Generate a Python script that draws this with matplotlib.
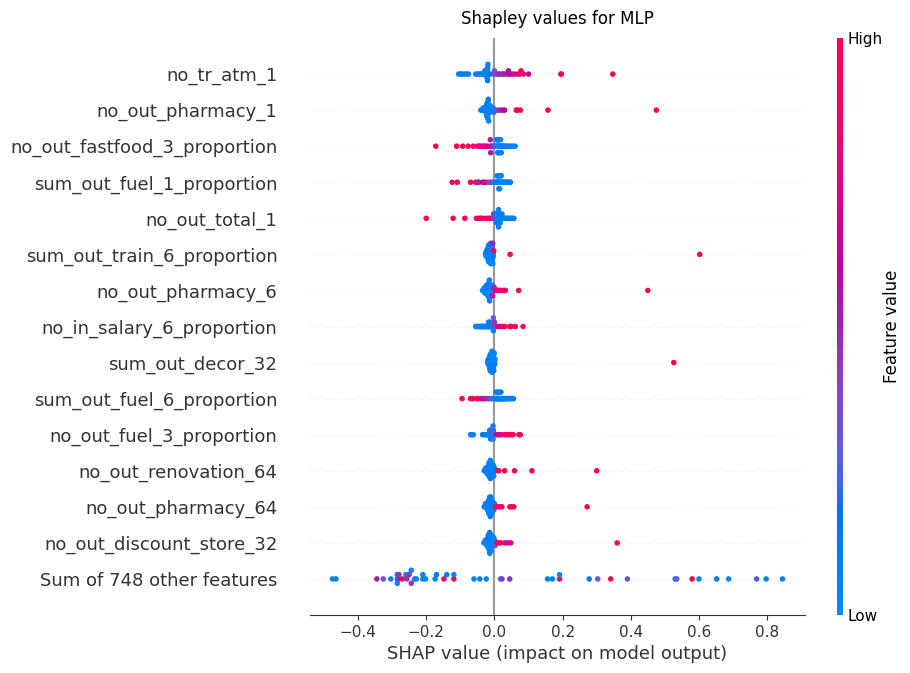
import matplotlib

matplotlib.use("Agg")

import numpy as np
import matplotlib.pyplot as plt
from matplotlib.colors import LinearSegmentedColormap, Normalize
from matplotlib.cm import ScalarMappable

# %%
# shap values (x) and normalised feature values (colour) per feature row, top to bottom

atm1_shap = [
    -0.105, -0.099, -0.094, -0.088, -0.082, -0.076,
    -0.055, -0.050, -0.045, -0.040, -0.036, -0.032, -0.030, -0.028,
    -0.025, -0.023, -0.022, -0.021, -0.021, -0.021, -0.020, -0.020,
    -0.019, -0.012, -0.003, 0.000, 0.005, 0.010, 0.015, 0.020,
    0.025, 0.030, 0.040, 0.041, 0.045, 0.052, 0.060, 0.070,
    0.074, 0.078, 0.085, 0.100, 0.195, 0.196, 0.347,
]
atm1_feat = [
    0.05, 0.08, 0.05, 0.10, 0.05, 0.08,
    0.05, 0.08, 0.05, 0.10, 0.05, 0.08, 0.05, 0.12,
    0.05, 0.08, 0.05, 0.10, 0.05, 0.08, 0.05, 0.12,
    0.05, 0.15, 0.30, 0.35, 0.40, 0.45, 0.45, 0.50,
    0.45, 0.50, 0.60, 0.55, 0.55, 0.70, 0.75, 0.60,
    0.95, 0.90, 0.85, 0.65, 1.00, 1.00, 1.00,
]

pharm1_shap = [
    -0.040, -0.036, -0.033, -0.031, -0.029, -0.027, -0.026, -0.025,
    -0.024, -0.023, -0.022, -0.022, -0.021, -0.021, -0.021, -0.021,
    -0.020, -0.020, -0.020, -0.019, -0.019, -0.018, -0.017, -0.016,
    -0.015, -0.014, -0.012, -0.010, -0.008, -0.006, -0.004, -0.002,
    0.005, 0.012, 0.018, 0.025, 0.030, 0.064, 0.068, 0.076,
    0.157, 0.475,
]
pharm1_feat = [
    0.05, 0.08, 0.05, 0.10, 0.05, 0.08, 0.05, 0.12,
    0.05, 0.08, 0.05, 0.10, 0.05, 0.08, 0.05, 0.12,
    0.05, 0.08, 0.05, 0.10, 0.05, 0.08, 0.05, 0.12,
    0.05, 0.08, 0.05, 0.10, 0.05, 0.08, 0.05, 0.12,
    0.35, 0.45, 0.50, 0.55, 0.60, 0.90, 1.00, 0.95,
    1.00, 1.00,
]

fastfood3_shap = [
    -0.172, -0.111, -0.093, -0.077, -0.062, -0.050, -0.045, -0.040,
    -0.035, -0.030, -0.025, -0.020, -0.012, -0.012, -0.011, -0.008,
    -0.005, 0.000, 0.003, 0.004, 0.006, 0.008, 0.008, 0.010,
    0.010, 0.010, 0.012, 0.012, 0.012, 0.014, 0.015, 0.015,
    0.016, 0.018, 0.018, 0.020, 0.022, 0.024, 0.026, 0.028,
    0.031, 0.035, 0.039, 0.043, 0.048, 0.055, 0.061,
]
fastfood3_feat = [
    1.00, 1.00, 1.00, 1.00, 0.95, 0.85, 0.80, 0.85,
    0.75, 0.80, 0.70, 0.75, 0.55, 0.50, 0.55, 0.45,
    0.50, 0.35, 0.30, 0.05, 0.08, 0.05, 0.10, 0.05,
    0.05, 0.08, 0.05, 0.10, 0.05, 0.08, 0.05, 0.12,
    0.05, 0.08, 0.05, 0.10, 0.05, 0.08, 0.05, 0.12,
    0.05, 0.08, 0.05, 0.10, 0.05, 0.08, 0.05,
]

fuel1_shap = [
    -0.124, -0.109, -0.070, -0.055, -0.048, -0.046, -0.035, -0.030,
    -0.023, -0.015, -0.010, -0.005, 0.003, 0.005, 0.006, 0.008,
    0.008, 0.010, 0.010, 0.011, 0.012, 0.012, 0.013, 0.014,
    0.014, 0.015, 0.016, 0.017, 0.018, 0.019, 0.020, 0.022,
    0.024, 0.026, 0.028, 0.030, 0.033, 0.036, 0.039, 0.042,
    0.045, 0.047,
]
fuel1_feat = [
    1.00, 1.00, 1.00, 0.75, 1.00, 0.50, 0.55, 0.75,
    1.00, 0.35, 0.30, 0.25, 0.05, 0.08, 0.05, 0.10,
    0.05, 0.08, 0.05, 0.10, 0.05, 0.08, 0.05, 0.12,
    0.05, 0.08, 0.05, 0.10, 0.05, 0.08, 0.05, 0.12,
    0.05, 0.08, 0.05, 0.10, 0.05, 0.08, 0.05, 0.12,
    0.05, 0.08,
]

total1_shap = [
    -0.200, -0.121, -0.087, -0.053, -0.045, -0.040, -0.035, -0.025,
    -0.018, -0.012, -0.005, -0.003, -0.002, 0.000, 0.002, 0.005,
    0.003, 0.005, 0.006, 0.008, 0.008, 0.010, 0.010, 0.011,
    0.012, 0.012, 0.013, 0.014, 0.015, 0.016, 0.017, 0.018,
    0.020, 0.022, 0.024, 0.026, 0.029, 0.032, 0.035, 0.039,
    0.043, 0.048, 0.052, 0.057,
]
total1_feat = [
    1.00, 1.00, 1.00, 1.00, 0.75, 0.55, 1.00, 0.95,
    1.00, 0.95, 0.50, 0.45, 0.50, 0.45, 0.30, 0.25,
    0.05, 0.08, 0.05, 0.10, 0.05, 0.08, 0.05, 0.12,
    0.05, 0.08, 0.05, 0.10, 0.05, 0.08, 0.05, 0.12,
    0.05, 0.08, 0.05, 0.10, 0.05, 0.08, 0.05, 0.12,
    0.05, 0.08, 0.05, 0.10,
]

train6_shap = [
    -0.026, -0.025, -0.024, -0.023, -0.022, -0.021, -0.020, -0.020,
    -0.019, -0.019, -0.018, -0.018, -0.017, -0.017, -0.016, -0.016,
    -0.015, -0.015, -0.014, -0.014, -0.013, -0.013, -0.012, -0.012,
    -0.011, -0.011, -0.010, -0.010, -0.009, -0.009, -0.008, -0.008,
    -0.007, -0.007, -0.006, -0.006, -0.005, -0.004, -0.004, -0.003,
    -0.005, -0.002, 0.046, 0.602,
]
train6_feat = [
    0.05, 0.08, 0.05, 0.10, 0.05, 0.08, 0.05, 0.12,
    0.05, 0.08, 0.05, 0.10, 0.05, 0.08, 0.05, 0.12,
    0.05, 0.08, 0.05, 0.10, 0.05, 0.08, 0.05, 0.12,
    0.05, 0.08, 0.05, 0.10, 0.05, 0.08, 0.05, 0.12,
    0.05, 0.08, 0.05, 0.10, 0.05, 0.08, 0.05, 0.12,
    0.50, 1.00, 1.00, 1.00,
]

pharm6_shap = [
    -0.035, -0.032, -0.030, -0.028, -0.026, -0.025, -0.024, -0.023,
    -0.022, -0.021, -0.020, -0.019, -0.019, -0.018, -0.018, -0.017,
    -0.017, -0.016, -0.016, -0.015, -0.015, -0.014, -0.013, -0.012,
    -0.011, -0.010, -0.009, -0.008, -0.007, -0.006, -0.005, -0.003,
    -0.005, 0.000, 0.005, 0.010, 0.015, 0.020, 0.028, 0.032,
    0.071, 0.450,
]
pharm6_feat = [
    0.05, 0.08, 0.05, 0.10, 0.05, 0.08, 0.05, 0.12,
    0.05, 0.08, 0.05, 0.10, 0.05, 0.08, 0.05, 0.12,
    0.05, 0.08, 0.05, 0.10, 0.05, 0.08, 0.05, 0.12,
    0.05, 0.08, 0.05, 0.10, 0.05, 0.08, 0.05, 0.12,
    0.75, 0.80, 0.70, 0.85, 0.80, 0.95, 0.90, 1.00,
    1.00, 1.00,
]

salary6_shap = [
    -0.055, -0.052, -0.049, -0.046, -0.043, -0.040, -0.038, -0.036,
    -0.034, -0.032, -0.030, -0.028, -0.026, -0.024, -0.022, -0.020,
    -0.019, -0.018, -0.017, -0.016, -0.015, -0.014, -0.013, -0.012,
    -0.004, -0.003, -0.003, -0.002, -0.003, 0.000, 0.000, 0.003,
    0.010, 0.015, 0.020, 0.030, 0.025, 0.045, 0.049, 0.061,
    0.084,
]
salary6_feat = [
    0.05, 0.08, 0.05, 0.10, 0.05, 0.08, 0.05, 0.12,
    0.05, 0.08, 0.05, 0.10, 0.05, 0.08, 0.05, 0.12,
    0.05, 0.08, 0.05, 0.10, 0.05, 0.08, 0.05, 0.12,
    0.05, 0.08, 0.05, 0.10, 0.30, 0.40, 0.45, 0.35,
    0.70, 0.75, 0.70, 0.75, 1.00, 1.00, 1.00, 1.00,
    1.00,
]

decor32_shap = [
    -0.020, -0.019, -0.018, -0.018, -0.017, -0.016, -0.016, -0.015,
    -0.015, -0.014, -0.014, -0.013, -0.013, -0.012, -0.012, -0.011,
    -0.011, -0.010, -0.010, -0.010, -0.009, -0.009, -0.009, -0.008,
    -0.008, -0.008, -0.007, -0.007, -0.007, -0.006, -0.006, -0.006,
    -0.005, -0.005, -0.004, -0.004, -0.003, -0.003, -0.002, -0.002,
    -0.001, 0.000, 0.000, 0.001, 0.002, 0.526,
]
decor32_feat = [
    0.05, 0.08, 0.05, 0.10, 0.05, 0.08, 0.05, 0.12,
    0.05, 0.08, 0.05, 0.10, 0.05, 0.08, 0.05, 0.12,
    0.05, 0.08, 0.05, 0.10, 0.05, 0.08, 0.05, 0.12,
    0.05, 0.08, 0.05, 0.10, 0.05, 0.08, 0.05, 0.12,
    0.05, 0.08, 0.05, 0.10, 0.05, 0.08, 0.05, 0.12,
    0.05, 0.08, 0.05, 0.10, 0.05, 1.00,
]

fuel6_shap = [
    -0.095, -0.070, -0.062, -0.050, -0.042, -0.035, -0.033, -0.028,
    -0.020, -0.015, -0.010, -0.005, 0.000, 0.002, 0.004, 0.005,
    0.006, 0.008, 0.009, 0.010, 0.011, 0.012, 0.013, 0.014,
    0.015, 0.016, 0.018, 0.019, 0.020, 0.022, 0.024, 0.026,
    0.028, 0.030, 0.032, 0.034, 0.037, 0.040, 0.044, 0.048,
    0.052, 0.056,
]
fuel6_feat = [
    1.00, 1.00, 1.00, 1.00, 0.80, 0.55, 0.70, 0.50,
    0.50, 0.45, 0.30, 0.25, 0.05, 0.08, 0.05, 0.10,
    0.05, 0.08, 0.05, 0.10, 0.05, 0.08, 0.05, 0.12,
    0.05, 0.08, 0.05, 0.10, 0.05, 0.08, 0.05, 0.12,
    0.05, 0.08, 0.05, 0.10, 0.05, 0.08, 0.05, 0.12,
    0.05, 0.08,
]

fuel3_shap = [
    -0.070, -0.066, -0.062, -0.035, -0.030, -0.026, -0.023, -0.020,
    -0.018, -0.016, -0.015, -0.014, -0.013, -0.012, -0.012, -0.011,
    -0.010, -0.010, -0.009, -0.008, -0.007, -0.006, -0.005, -0.004,
    -0.004, -0.004, -0.003, -0.003, 0.005, 0.010, 0.015, 0.020,
    0.030, 0.035, 0.042, 0.050, 0.055, 0.072, 0.076,
]
fuel3_feat = [
    0.05, 0.08, 0.05, 0.10, 0.05, 0.08, 0.05, 0.12,
    0.05, 0.08, 0.05, 0.10, 0.05, 0.08, 0.05, 0.12,
    0.05, 0.08, 0.05, 0.10, 0.05, 0.08, 0.05, 0.12,
    0.05, 0.08, 0.25, 0.30, 0.50, 0.55, 0.70, 0.75,
    0.95, 0.90, 1.00, 0.95, 1.00, 1.00, 1.00,
]

renov64_shap = [
    -0.030, -0.028, -0.026, -0.024, -0.023, -0.022, -0.021, -0.020,
    -0.019, -0.018, -0.018, -0.017, -0.017, -0.016, -0.016, -0.015,
    -0.015, -0.014, -0.014, -0.013, -0.013, -0.012, -0.012, -0.011,
    -0.011, -0.010, -0.010, -0.009, -0.009, -0.008, -0.008, -0.007,
    -0.006, -0.005, -0.005, -0.004, -0.003, -0.002, -0.001, 0.000,
    0.010, 0.013, 0.030, 0.059, 0.110, 0.300,
]
renov64_feat = [
    0.05, 0.08, 0.05, 0.10, 0.05, 0.08, 0.05, 0.12,
    0.05, 0.08, 0.05, 0.10, 0.05, 0.08, 0.05, 0.12,
    0.05, 0.08, 0.05, 0.10, 0.05, 0.08, 0.05, 0.12,
    0.05, 0.08, 0.05, 0.10, 0.05, 0.08, 0.05, 0.12,
    0.05, 0.08, 0.05, 0.10, 0.05, 0.08, 0.05, 0.12,
    0.95, 1.00, 1.00, 1.00, 1.00, 1.00,
]

pharm64_shap = [
    -0.030, -0.028, -0.026, -0.024, -0.022, -0.021, -0.020, -0.019,
    -0.018, -0.018, -0.017, -0.017, -0.016, -0.016, -0.015, -0.015,
    -0.014, -0.014, -0.013, -0.013, -0.012, -0.012, -0.011, -0.011,
    -0.010, -0.010, -0.009, -0.008, -0.007, -0.006, -0.005, -0.004,
    -0.003, -0.002, -0.001, 0.000, -0.008, -0.012,
    0.003, 0.008, 0.015, 0.022, 0.045, 0.050, 0.057, 0.272,
]
pharm64_feat = [
    0.05, 0.08, 0.05, 0.10, 0.05, 0.08, 0.05, 0.12,
    0.05, 0.08, 0.05, 0.10, 0.05, 0.08, 0.05, 0.12,
    0.05, 0.08, 0.05, 0.10, 0.05, 0.08, 0.05, 0.12,
    0.05, 0.08, 0.05, 0.10, 0.05, 0.08, 0.05, 0.12,
    0.05, 0.08, 0.05, 0.10, 0.05, 0.08,
    1.00, 0.75, 1.00, 0.95, 1.00, 1.00, 1.00, 1.00,
]

discount32_shap = [
    -0.031, -0.029, -0.027, -0.025, -0.023, -0.022, -0.021, -0.020,
    -0.019, -0.019, -0.018, -0.018, -0.017, -0.017, -0.016, -0.016,
    -0.015, -0.015, -0.014, -0.014, -0.013, -0.013, -0.012, -0.012,
    -0.011, -0.010, -0.009, -0.008, -0.007, -0.006, -0.005, -0.004,
    -0.003, -0.002, -0.001, 0.000, -0.010, -0.014,
    0.002, 0.008, 0.012, 0.018, 0.030, 0.038, 0.048, 0.360,
]
discount32_feat = [
    0.05, 0.08, 0.05, 0.10, 0.05, 0.08, 0.05, 0.12,
    0.05, 0.08, 0.05, 0.10, 0.05, 0.08, 0.05, 0.12,
    0.05, 0.08, 0.05, 0.10, 0.05, 0.08, 0.05, 0.12,
    0.05, 0.08, 0.05, 0.10, 0.05, 0.08, 0.05, 0.12,
    0.05, 0.08, 0.05, 0.10, 0.05, 0.08,
    0.30, 1.00, 0.95, 1.00, 0.50, 0.55, 0.75, 1.00,
]

others_shap = [
    -0.475, -0.465, -0.345, -0.326, -0.304, -0.285, -0.285, -0.285, -0.280, -0.280,
    -0.270, -0.260, -0.257, -0.250, -0.244, -0.244, -0.234, -0.229, -0.210, -0.210,
    -0.202, -0.174, -0.170, -0.148, -0.140, -0.119, -0.119, -0.060, -0.043, -0.024,
    0.018, 0.022, 0.045, 0.156, 0.170, 0.191, 0.191, 0.278, 0.303, 0.341,
    0.390, 0.530, 0.535, 0.580, 0.600, 0.652, 0.687, 0.769, 0.797, 0.845,
]
others_feat = [
    0.05, 0.08, 0.50, 0.35, 0.05, 0.05, 0.08, 0.05, 0.50, 0.45,
    1.00, 0.05, 0.45, 0.45, 0.45, 0.05, 0.08, 0.05, 0.05, 0.08,
    0.05, 0.05, 0.08, 0.80, 0.05, 1.00, 0.05, 0.05, 0.08, 0.05,
    0.05, 0.45, 0.45, 0.05, 0.08, 1.00, 0.05, 0.10, 0.30, 0.95,
    0.30, 0.10, 0.30, 1.00, 0.05, 0.08, 0.05, 0.25, 0.10, 0.10,
]

feature_names = [
    'no_tr_atm_1', 'no_out_pharmacy_1', 'no_out_fastfood_3_proportion',
    'sum_out_fuel_1_proportion', 'no_out_total_1', 'sum_out_train_6_proportion',
    'no_out_pharmacy_6', 'no_in_salary_6_proportion', 'sum_out_decor_32',
    'sum_out_fuel_6_proportion', 'no_out_fuel_3_proportion', 'no_out_renovation_64',
    'no_out_pharmacy_64', 'no_out_discount_store_32', 'Sum of 748 other features',
]
rows = [
    (atm1_shap, atm1_feat), (pharm1_shap, pharm1_feat), (fastfood3_shap, fastfood3_feat),
    (fuel1_shap, fuel1_feat), (total1_shap, total1_feat), (train6_shap, train6_feat),
    (pharm6_shap, pharm6_feat), (salary6_shap, salary6_feat), (decor32_shap, decor32_feat),
    (fuel6_shap, fuel6_feat), (fuel3_shap, fuel3_feat), (renov64_shap, renov64_feat),
    (pharm64_shap, pharm64_feat), (discount32_shap, discount32_feat), (others_shap, others_feat),
]


# %%
# shap-like red/blue colour scale (interpolated in Lch space)

def _lch2rgb(l, c, h):
    a, b = c * np.cos(h), c * np.sin(h)
    fy = (l + 16) / 116
    fx, fz = fy + a / 500, fy - b / 200

    def finv(t):
        return np.where(t > 6 / 29, t ** 3, 3 * (6 / 29) ** 2 * (t - 4 / 29))

    X, Y, Z = 0.95047 * finv(fx), finv(fy), 1.08883 * finv(fz)
    r = 3.2406 * X - 1.5372 * Y - 0.4986 * Z
    g = -0.9689 * X + 1.8758 * Y + 0.0415 * Z
    bb = 0.0557 * X - 0.2040 * Y + 1.0570 * Z
    rgb = np.clip(np.stack([r, g, bb], axis=-1), 0, 1)
    return np.clip(np.where(rgb <= 0.0031308, 12.92 * rgb, 1.055 * rgb ** (1 / 2.4) - 0.055), 0, 1)


nsteps = 100
l_vals = np.concatenate([np.linspace(54., 40., nsteps // 2), np.linspace(40., 54., nsteps // 2)])
c_vals = np.linspace(70., 90., nsteps)
h_vals = np.linspace(4.6588, 0.35470565 + 2 * np.pi, nsteps)
red_blue = LinearSegmentedColormap.from_list('red_blue', _lch2rgb(l_vals, c_vals, h_vals))


def _swarm(vals, row_height=0.4, nbins=100):
    vals = np.asarray(vals)
    quant = np.round(nbins * (vals - vals.min()) / (vals.max() - vals.min() + 1e-8))
    order = np.argsort(quant, kind='stable')
    ys = np.zeros(len(vals))
    layer, last = 0, -1
    for i in order:
        if quant[i] != last:
            layer = 0
        ys[i] = np.ceil(layer / 2) * ((layer % 2) * 2 - 1)
        layer += 1
        last = quant[i]
    ys *= 0.9 * (row_height / np.max(ys + 1))
    return ys


# %%

W, H = 910, 673
fig = plt.figure(figsize=(W / 100, H / 100), dpi=100)
ax = fig.add_axes([310 / W, (H - 615) / H, (805 - 310) / W, (615 - 38) / H])

n = len(feature_names)
ax.axvline(0, color='#999999', zorder=-1)
for k, (name, (sv, fv)) in enumerate(zip(feature_names, rows)):
    pos = n - 1 - k
    ax.axhline(pos, color='#cccccc', lw=0.5, dashes=(1, 5), zorder=-1)
    ax.scatter(sv, pos + _swarm(sv), c=fv, cmap=red_blue, vmin=0, vmax=1,
               s=16, linewidth=0, zorder=3)

ax.set_yticks(range(n))
ax.set_yticklabels(feature_names[::-1], fontsize=13)
ax.set_ylim(-1, n)
ax.tick_params(axis='y', length=0, pad=23.5, labelcolor='#333333')
ax.tick_params(axis='x', labelsize=11, color='#333333', labelcolor='#333333')
for side in ('left', 'right', 'top'):
    ax.spines[side].set_visible(False)
ax.spines['bottom'].set_color('#333333')
ax.set_xlabel('SHAP value (impact on model output)', fontsize=13, color='#333333')
ax.set_title('Shapley values for MLP', fontsize=12, pad=10)

cax = fig.add_axes([837 / W, (H - 615) / H, 6 / W, (615 - 38) / H])
cb = fig.colorbar(ScalarMappable(norm=Normalize(0, 1), cmap=red_blue), cax=cax, ticks=[0, 1])
cb.set_ticklabels(['Low', 'High'])
cb.set_label('Feature value', size=12, labelpad=0)
cb.ax.tick_params(labelsize=11, length=0)
cb.outline.set_visible(False)

fig.savefig('out.png', dpi=100)
